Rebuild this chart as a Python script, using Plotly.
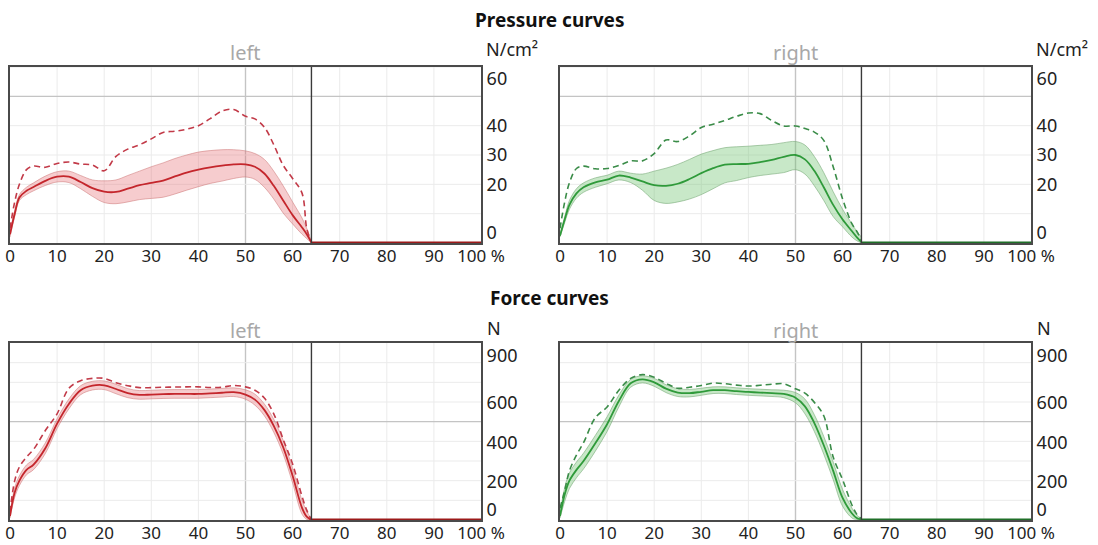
import plotly.graph_objects as go

# ---------------- data ----------------
pct = [0, 1, 2, 3.5, 5, 7.5, 10, 12.5, 15, 17.5, 20, 22.5, 25, 27.5, 30, 32.5, 35,
       37.5, 40, 42.5, 45, 47.5, 50, 52, 54, 56, 58, 60, 62, 63, 64]
stance_end = 64
x_ticks = [0, 10, 20, 30, 40, 50, 60, 70, 80, 90, 100]
x_ticktext = ["0", "10", "20", "30", "40", "50", "60", "70", "80", "90", "100 %"]

# pressure (N/cm²)
p_left_mean = [3, 10, 15.5, 17.8, 19.1, 21.2, 22.6, 22.6, 20.8, 18.7, 17.5, 17.4, 18.5, 19.7,
               20.5, 21.3, 22.7, 24.0, 25.0, 25.8, 26.4, 26.8, 26.8, 26.0, 23.7, 19.5, 14.5,
               9.5, 5.3, 3.0, 0.2]
p_left_up = [4, 11, 16.5, 19, 20.5, 22.8, 24.3, 24.5, 23, 21.5, 21.2, 21.5, 23, 24.5, 26,
             27.3, 28.8, 30, 31, 31.5, 31.8, 31.8, 31.4, 30.5, 28.5, 24.5, 19.5, 14, 8.5, 5, 0.5]
p_left_lo = [2, 9, 14.5, 16.5, 17.8, 19.6, 20.8, 20.6, 18.5, 15.9, 13.8, 13.4, 14, 14.8, 15.2,
             15.6, 16.7, 18, 19.2, 20.3, 21.1, 22, 22.5, 21.7, 19, 15, 10.2, 6.5, 3, 1.5, 0]
p_left_max = [5, 14, 20, 25, 26.2, 25.8, 27.1, 27.6, 26.9, 26.6, 24.6, 29.5, 32, 33.5, 35.5,
              37.7, 38.1, 38.8, 40, 42.4, 45, 45.5, 43.2, 42.3, 39.5, 33.5, 26.5, 22, 17, 5, 0]

p_right_mean = [2.5, 8, 13, 16.9, 19, 20.7, 21.6, 23, 22.3, 21, 19.7, 19.5, 20.2, 21.8, 23.8,
                25.5, 26.7, 26.9, 27, 27.6, 28.3, 29.4, 30, 28.5, 24.6, 19, 13, 8, 4, 2, 0.3]
p_right_up = [3, 9, 14.5, 18.5, 20.5, 22.2, 23.1, 24.5, 23.8, 23.5, 24.5, 25.5, 26.8, 28.5,
              30.3, 31.5, 32.5, 32.8, 33, 33.3, 33.6, 34.2, 34.6, 33.4, 29.5, 24, 17.5, 11.5,
              6.5, 4, 2]
p_right_lo = [2, 7, 11.5, 15.3, 17.3, 19, 20.2, 21.5, 20.6, 18, 14.5, 13.5, 14, 15, 16.5, 18.5,
              20.5, 21.3, 22.3, 23, 23.5, 24, 25, 23.5, 19.5, 14.5, 9, 5.5, 2, 0.8, 0]
p_right_max = [5, 14, 20.5, 25.4, 26.2, 25.3, 25.4, 26.4, 28, 28, 30.5, 35.1, 34.6, 36.5, 39.4,
               40.5, 41.8, 43.2, 44.3, 44.1, 41.7, 39.9, 39.9, 39, 37.8, 35, 26, 15, 6.5, 4, 1]

# force (N)
f_left_mean = [20, 140, 200, 255, 282, 365, 490, 590, 660, 683, 685, 666, 645, 636, 638, 640,
               641, 641, 641, 644, 647, 650, 638, 612, 560, 479, 370, 225, 62, 17, 0]
f_left_up = [30, 165, 225, 280, 308, 392, 515, 615, 683, 705, 707, 690, 668, 658, 660, 662, 663,
             663, 663, 666, 669, 672, 662, 640, 590, 512, 405, 262, 100, 45, 5]
f_left_lo = [10, 115, 175, 230, 256, 338, 465, 565, 637, 661, 663, 642, 622, 614, 616, 618, 619,
             619, 619, 622, 625, 628, 614, 584, 530, 446, 335, 188, 30, 3, 0]
f_left_max = [40, 200, 270, 320, 359, 455, 540, 670, 708, 720, 720, 698, 683, 673, 673, 675, 676,
              677, 677, 674, 675, 684, 677, 660, 620, 540, 410, 285, 120, 50, 0]

f_right_mean = [20, 130, 200, 255, 300, 390, 487, 605, 695, 715, 700, 668, 648, 645, 652, 660,
                660, 655, 651, 648, 645, 641, 622, 578, 493, 380, 250, 112, 33, 10, 3]
f_right_up = [30, 165, 240, 295, 340, 430, 525, 635, 715, 733, 720, 688, 668, 664, 670, 677, 677,
              672, 668, 665, 662, 660, 648, 615, 535, 425, 295, 155, 60, 25, 8]
f_right_lo = [10, 95, 160, 215, 260, 350, 450, 575, 675, 697, 680, 648, 628, 626, 634, 643, 643,
              638, 634, 631, 628, 622, 596, 540, 450, 335, 205, 70, 10, 2, 0]
f_right_max = [60, 150, 250, 330, 393, 520, 575, 660, 720, 739, 726, 695, 670, 675, 684, 696, 693,
               686, 681, 685, 690, 693, 667, 645, 598, 530, 320, 205, 75, 30, 5]

p_range = [0, 60]
p_grid = [10, 20, 30, 40, 60]
p_grid_dark = 50
p_tickvals = [3.5, 20, 30, 40, 56]
p_ticktext = ["0", "20", "30", "40", "60"]

f_range = [0, 900]
f_grid = [100, 200, 300, 400, 600, 700, 800]
f_grid_dark = 500
f_tickvals = [50, 195, 393, 595, 838]
f_ticktext = ["0", "200", "400", "600", "900"]

# ---------------- styles ----------------
FONT = "Noto Sans, DejaVu Sans, sans-serif"
RED = dict(line="#c4262c", dash="#c23a48", fill="rgba(228,110,115,0.35)",
           edge="rgba(205,120,120,0.55)", zero="#9c1a1a")
GREEN = dict(line="#2f9a3a", dash="#3a8c48", fill="rgba(110,195,110,0.38)",
             edge="rgba(120,170,120,0.6)", zero="#1f6f28")

panels = [
    ("x", "y", p_left_mean, p_left_up, p_left_lo, p_left_max, RED, p_range, p_grid, p_grid_dark, p_tickvals, p_ticktext),
    ("x2", "y2", p_right_mean, p_right_up, p_right_lo, p_right_max, GREEN, p_range, p_grid, p_grid_dark, p_tickvals, p_ticktext),
    ("x3", "y3", f_left_mean, f_left_up, f_left_lo, f_left_max, RED, f_range, f_grid, f_grid_dark, f_tickvals, f_ticktext),
    ("x4", "y4", f_right_mean, f_right_up, f_right_lo, f_right_max, GREEN, f_range, f_grid, f_grid_dark, f_tickvals, f_ticktext),
]

W, H = 1098, 545
xdom = {"x": [10 / W, 481 / W], "x2": [560 / W, 1031 / W], "x3": [10 / W, 481 / W], "x4": [560 / W, 1031 / W]}
ydom = {"y": [1 - 243 / H, 1 - 67 / H], "y2": [1 - 243 / H, 1 - 67 / H],
        "y3": [1 - 520 / H, 1 - 343 / H], "y4": [1 - 520 / H, 1 - 343 / H]}

fig = go.Figure()
shapes = []
layout = {}

for xa, ya, mean, up, lo, mx, c, rng, grid, dark, tv, tt in panels:
    fig.add_trace(go.Scatter(x=pct, y=up, mode="lines", line=dict(color=c["edge"], width=1, shape="spline"),
                             xaxis=xa, yaxis=ya, showlegend=False, hoverinfo="skip"))
    fig.add_trace(go.Scatter(x=pct, y=lo, mode="lines", line=dict(color=c["edge"], width=1, shape="spline"),
                             fill="tonexty", fillcolor=c["fill"], xaxis=xa, yaxis=ya, showlegend=False,
                             hoverinfo="skip"))
    fig.add_trace(go.Scatter(x=pct, y=mx, mode="lines",
                             line=dict(color=c["dash"], width=1.6, dash="6px,4px", shape="spline"),
                             xaxis=xa, yaxis=ya, showlegend=False))
    fig.add_trace(go.Scatter(x=pct, y=mean, mode="lines", line=dict(color=c["line"], width=1.8, shape="spline"),
                             xaxis=xa, yaxis=ya, showlegend=False))
    fig.add_trace(go.Scatter(x=[stance_end, 100], y=[0, 0], mode="lines",
                             line=dict(color=c["zero"], width=3), xaxis=xa, yaxis=ya, showlegend=False,
                             cliponaxis=False))

    for gx in x_ticks[1:-1]:
        shapes.append(dict(type="line", xref=xa, yref=ya, x0=gx, x1=gx, y0=rng[0], y1=rng[1],
                           line=dict(color="#c4c4c4" if gx == 50 else "#ebebeb", width=1.4 if gx == 50 else 1),
                           layer="below"))
    for gy in grid + [dark]:
        shapes.append(dict(type="line", xref=xa, yref=ya, x0=0, x1=100, y0=gy, y1=gy,
                           line=dict(color="#c4c4c4" if gy == dark else "#ebebeb", width=1.4 if gy == dark else 1),
                           layer="below"))
    shapes.append(dict(type="line", xref=xa, yref=ya, x0=stance_end, x1=stance_end, y0=rng[0], y1=rng[1],
                       line=dict(color="#3a3a3a", width=1.4)))

    xkey = "xaxis" + xa[1:]
    ykey = "yaxis" + ya[1:]
    layout[xkey] = dict(domain=xdom[xa], anchor=ya, range=[0, 100], tickmode="array", tickvals=x_ticks,
                        ticktext=x_ticktext, showgrid=False, zeroline=False, showline=True, mirror=True,
                        linecolor="#4a4a4a", linewidth=2, ticks="", automargin=False, ticklabelstandoff=-3,
                        tickfont=dict(size=17, color="#222", family=FONT))
    layout[ykey] = dict(domain=ydom[ya], anchor=xa, range=rng, side="right", tickmode="array", tickvals=tv,
                        ticktext=tt, showgrid=False, zeroline=False, showline=True, mirror=True,
                        linecolor="#4a4a4a", linewidth=2, ticks="", automargin=False,
                        tickfont=dict(size=18, color="#222", family=FONT))


def ann(text, px, py, size, color, xanchor="center", bold=False):
    return dict(text=f"<b>{text}</b>" if bold else text, x=px / W, y=1 - py / H, xref="paper", yref="paper",
                showarrow=False, xanchor=xanchor, yanchor="middle", font=dict(size=size, color=color, family=FONT))


annotations = [
    ann("Pressure curves", 549, 20, 19, "#111", bold=True),
    ann("Force curves", 549, 298, 19, "#111", bold=True),
    ann("left", 245.5, 52, 20, "#a8a8a8"),
    ann("right", 795.5, 52, 20, "#a8a8a8"),
    ann("left", 245.5, 330, 20, "#a8a8a8"),
    ann("right", 795.5, 330, 20, "#a8a8a8"),
    ann("N/cm²", 484, 49, 18, "#222", xanchor="left"),
    ann("N/cm²", 1034, 49, 18, "#222", xanchor="left"),
    ann("N", 485, 328, 18, "#222", xanchor="left"),
    ann("N", 1035, 328, 18, "#222", xanchor="left"),
]

fig.update_layout(width=W, height=H, margin=dict(l=0, r=0, t=0, b=0, autoexpand=False), autosize=False,
                  paper_bgcolor="white", plot_bgcolor="white", shapes=shapes, annotations=annotations,
                  font=dict(family=FONT), **layout)

fig.write_html("out.html")
